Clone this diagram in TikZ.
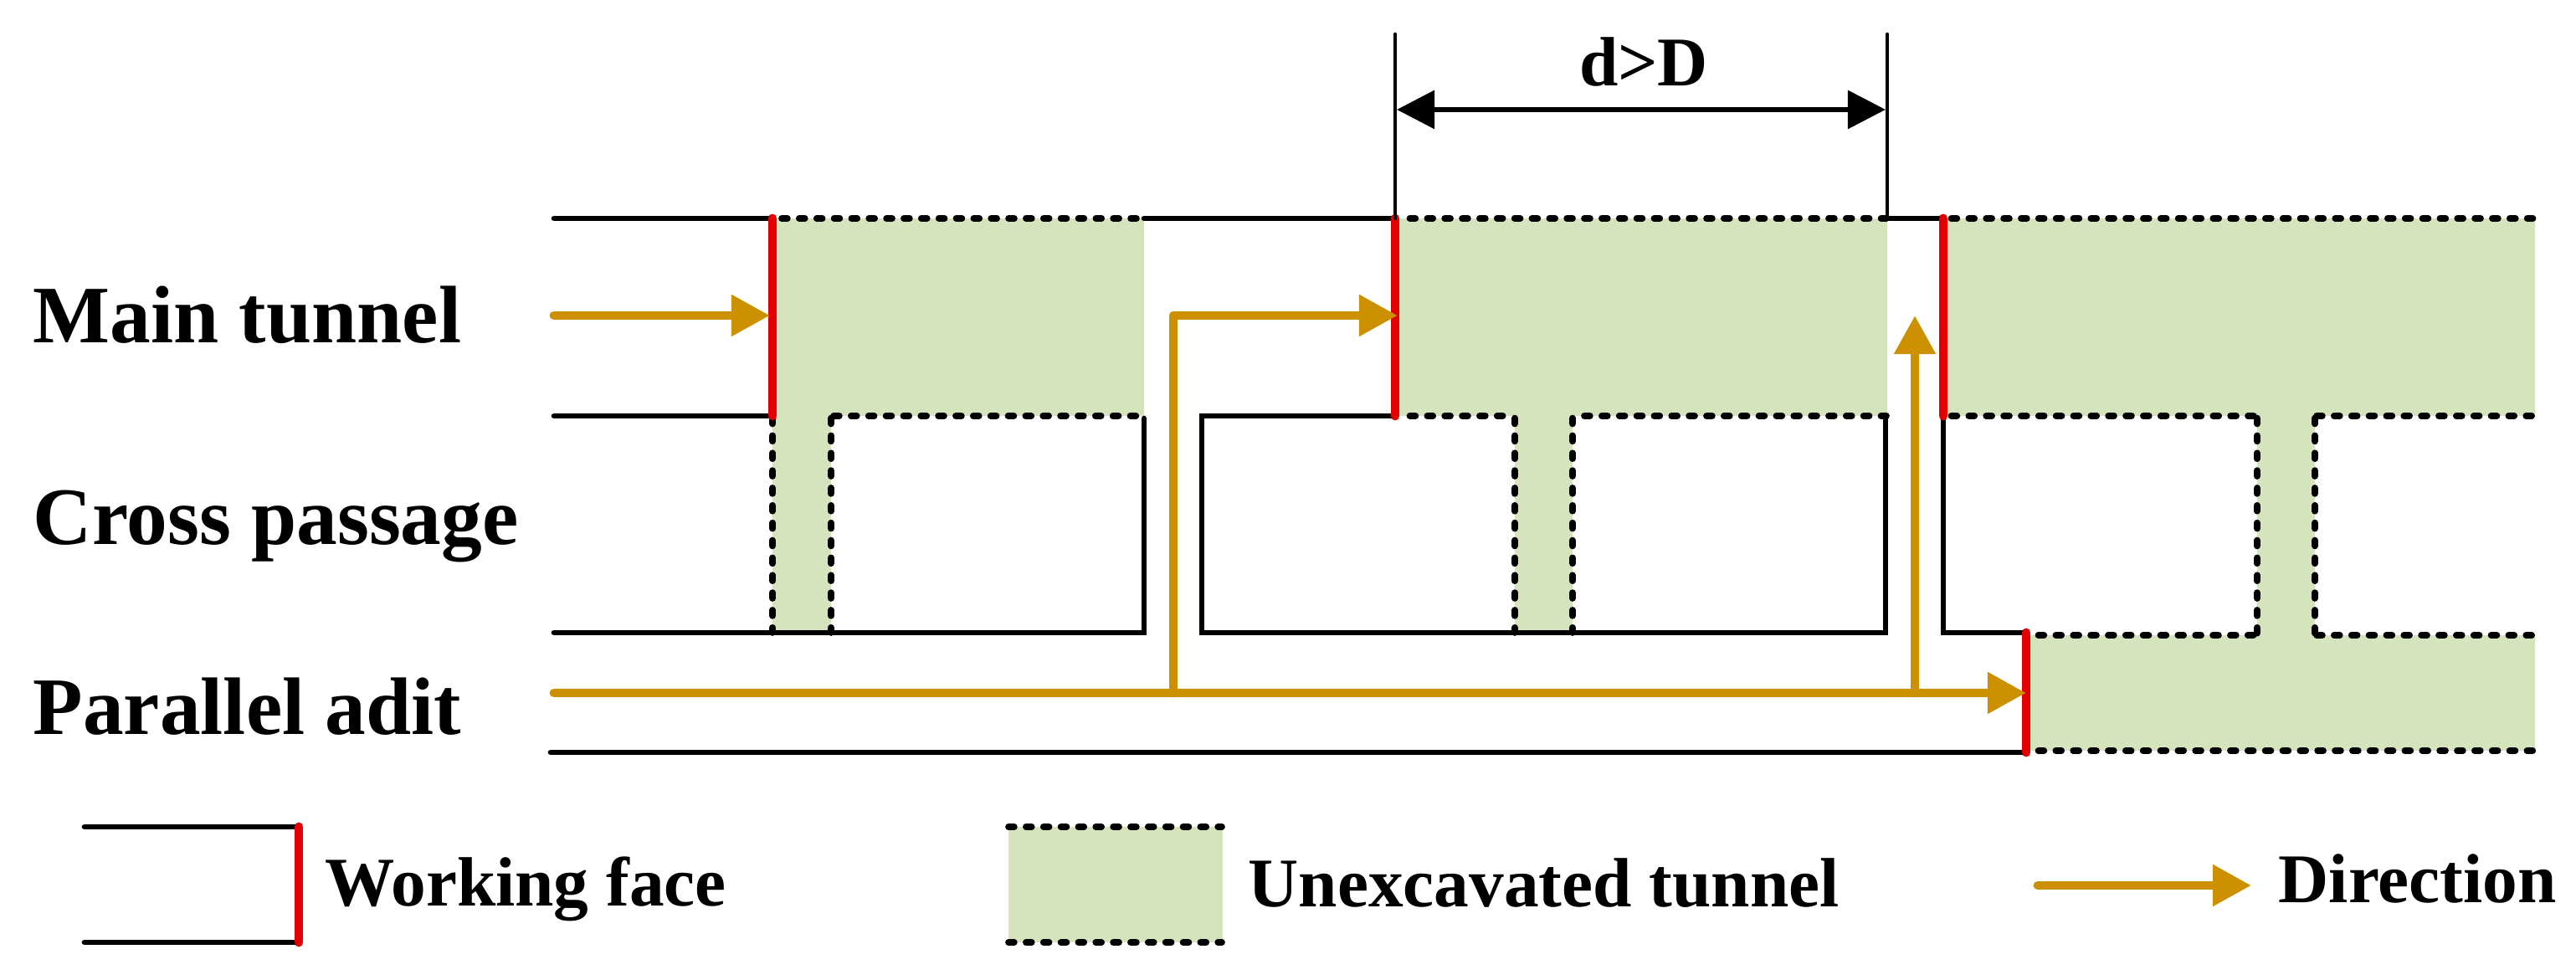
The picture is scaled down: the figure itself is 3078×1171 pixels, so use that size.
\documentclass[tikz,border=0pt]{standalone}
\usepackage{fontspec}
\setmainfont{Liberation Serif}
\usetikzlibrary{arrows.meta}
\definecolor{faceRed}   {RGB}{226,   0,   0}
\definecolor{dirGold}   {RGB}{204, 144,   0}
\definecolor{rockGreen} {RGB}{214, 228, 190}
\tikzset{
  wall/.style={black,line width=1.9pt,line cap=round},
  dotwall/.style={black,line width=2.2pt,line cap=round,dash pattern=on 1.95pt off 3.98pt},
  face/.style={faceRed,line width=3.1pt,line cap=round},
  flow/.style={dirGold,line width=3.1pt,line cap=round,-{Triangle[length=0.46cm,width=0.47cm]}},
  dimline/.style={black,line width=1.3pt,line cap=round},
  rowlabel/.style={font=\bfseries\fontsize{27.7}{30}\selectfont,anchor=base west,inner sep=0pt},
  keylabel/.style={font=\bfseries\fontsize{23.7}{26}\selectfont,anchor=base west,inner sep=0pt},
}
\begin{document}
\begin{tikzpicture}[x=0.01cm,y=-0.01cm]
    \useasboundingbox (0,0) rectangle (3078,1171);

    % unexcavated parts
    \fill[rockGreen] (923,261) rectangle (1367,497);
    \fill[rockGreen] (923,497) rectangle (993,756);
    \fill[rockGreen] (1667,261) rectangle (2255,497);
    \fill[rockGreen] (1810,497) rectangle (1879,756);
    \fill[rockGreen] (2322,261) rectangle (3029,497);
    \fill[rockGreen] (2697,497) rectangle (2766,759);
    \fill[rockGreen] (2421,759) rectangle (3029,897);
    \fill[rockGreen] (1205,988) rectangle (1461,1126);

    % dotted walls
    \foreach \xa/\xb/\ya in {934/1358/261,1684.5/2254/261,2331.5/3026.5/261,
                             996/1358/497,1684.5/1796/497,1893/2254/497,
                             2331.5/2697/497,2768/3026.5/497,
                             2435.5/2697/759,2768/3026.5/759,2435.5/3026.5/897,
                             1205/1460/988,1205/1460/1126}{
      \draw[dotwall] (\xa,\ya) -- (\xb,\ya);
    }
    \foreach \xa/\yb in {923/756,993/756,1810/756,1879/756,2697/761,2766/761}{
      \draw[dotwall] (\xa,499.6) -- (\xa,\yb);
    }

    % solid walls
    \foreach \xa/\xb in {662/923,1367/1667,2255/2322}{\draw[wall] (\xa,261) -- (\xb,261);}
    \draw[wall] (662,497) -- (923,497);
    \draw[wall] (662,756) -- (1367,756) -- (1367,500);
    \draw[wall] (1667,497) -- (1436,497) -- (1436,756) -- (2253,756) -- (2253,500);
    \draw[wall] (2322,497) -- (2322,756) -- (2421,756);
    \draw[wall] (658,899) -- (2421,899);

    % working faces
    \draw[face] (923,261) -- (923,497);
    \draw[face] (1667,261) -- (1667,497);
    \draw[face] (2322,261) -- (2322,497);
    \draw[face] (2421,756) -- (2421,899);

    % d>D
    \draw[dimline] (1667,41) -- (1667,261);
    \draw[dimline] (2255,41) -- (2255,261);
    \coordinate (dL) at (1669,131);
    \coordinate (dR) at (2253,131);
    \draw[black,line width=1.7pt,{Triangle[length=0.45cm,width=0.45cm]}-{Triangle[length=0.45cm,width=0.45cm]}] (dL) -- (dR);
    \node[keylabel,anchor=base] (dlabel) at (1964,103){d>D};

    % directions
    \coordinate (inMain) at (662,377);
    \coordinate (faceA) at (920,377);
    \coordinate (inAdit) at (662,828);
    \coordinate (faceD) at (2421,828);
    \coordinate (turnA) at (1402,828);
    \coordinate (turnB) at (1402,377);
    \coordinate (faceB) at (1670,377);
    \coordinate (turnC) at (2288,828);
    \coordinate (tipC) at (2288,377);
    \draw[flow] (inMain) -- (faceA);
    \draw[flow] (inAdit) -- (faceD);
    \draw[flow,line join=round] (turnA) -- (turnB) -- (faceB);
    \draw[flow] (turnC) -- (tipC);

    % row names
    \node[rowlabel] (main) at (39,410){Main tunnel};
    \node[rowlabel] (cross) at (39,651){Cross passage};
    \node[rowlabel] (adit) at (39,878){Parallel adit};

    % legend
    \draw[wall] (101,988) -- (357,988);
    \draw[wall] (101,1126) -- (357,1126);
    \draw[face] (357,988) -- (357,1126);
    \node[keylabel] (keyface) at (388,1083){Working face};
    \node[keylabel] (keyrock) at (1491,1084){Unexcavated tunnel};
    \coordinate (keyA) at (2435,1058);
    \coordinate (keyB) at (2690,1058);
    \draw[flow] (keyA) -- (keyB);
    \node[keylabel] (keydir) at (2722,1079){Direction};

\end{tikzpicture}
\end{document}
